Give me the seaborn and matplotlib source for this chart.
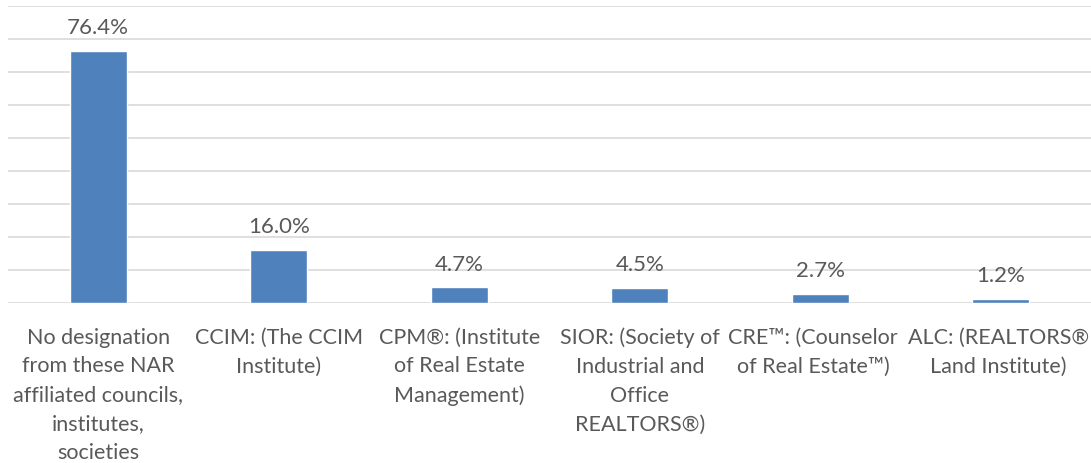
import matplotlib
matplotlib.use("Agg")
import matplotlib.pyplot as plt
import matplotlib.transforms as mtransforms
import seaborn as sns
import pandas as pd

# Data
categories = [
    "No designation\nfrom these NAR\naffiliated councils,\ninstitutes,\nsocieties",
    "CCIM: (The CCIM\nInstitute)",
    "CPM®: (Institute\nof Real Estate\nManagement)",
    "SIOR: (Society of\nIndustrial and\nOffice\nREALTORS®)",
    "CRE™: (Counselor\nof Real Estate™)",
    "ALC: (REALTORS®\nLand Institute)",
]
shares = [76.4, 16.0, 4.7, 4.5, 2.7, 1.2]

df = pd.DataFrame({"Designation": categories, "Share": shares})

sns.set_style("white")
plt.rcParams["font.family"] = ["Lato", "DejaVu Sans"]

text_color = "#595959"

fig = plt.figure(figsize=(10.91, 4.64), dpi=100)
ax = fig.add_axes([8 / 1091, 1 - 304 / 464, 1 - 8 / 1091, 297 / 464])

sns.barplot(data=df, x="Designation", y="Share", color="#4f81bd",
            saturation=1, width=0.315, ax=ax, zorder=3)

ax.set_ylim(0, 90)
ax.set_yticks(range(0, 91, 10))
ax.yaxis.grid(True, color="#d9d9d9", linewidth=1.2, zorder=0)
ax.set_axisbelow(True)
ax.set_yticklabels([])
ax.tick_params(axis="y", length=0)
ax.tick_params(axis="x", length=0, pad=17, labelsize=15.5, labelcolor=text_color)

for s in ax.spines.values():
    s.set_visible(False)

ax.bar_label(ax.containers[0], labels=[f"{v:.1f}%" for v in shares],
             padding=10, fontsize=16, color=text_color)

ax.set_xlabel("")
ax.set_ylabel("")
ax.set_xlim(-0.5, len(categories) - 0.5)

ticklabels = ax.get_xticklabels()
for lbl in ticklabels:
    lbl.set_linespacing(1.55)

# nudge the last two labels apart so they don't run together
for lbl, dx in [(ticklabels[-2], -7), (ticklabels[-1], -2)]:
    shift = mtransforms.ScaledTranslation(dx / 100, 0, fig.dpi_scale_trans)
    lbl.set_transform(lbl.get_transform() + shift)

fig.savefig("out.png", dpi=100)
